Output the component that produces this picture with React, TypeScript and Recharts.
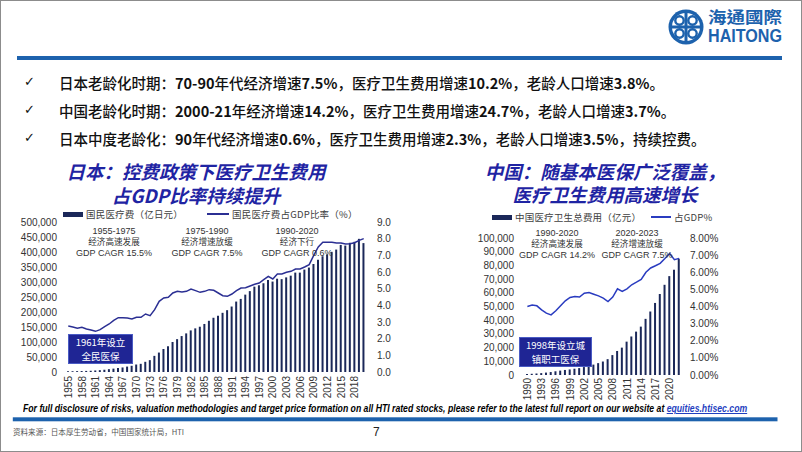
import React, { useLayoutEffect, useRef, useState } from "react";
import { Bar, ComposedChart, Line, XAxis, YAxis } from "recharts";

// Japan: national medical expenditure (100m yen) and share of GDP (%), 1955-2020
const JP_YEARS = [
  "1955", "1956", "1957", "1958", "1959", "1960", "1961", "1962", "1963", "1964",
  "1965", "1966", "1967", "1968", "1969", "1970", "1971", "1972", "1973", "1974",
  "1975", "1976", "1977", "1978", "1979", "1980", "1981", "1982", "1983", "1984",
  "1985", "1986", "1987", "1988", "1989", "1990", "1991", "1992", "1993", "1994",
  "1995", "1996", "1997", "1998", "1999", "2000", "2001", "2002", "2003", "2004",
  "2005", "2006", "2007", "2008", "2009", "2010", "2011", "2012", "2013", "2014",
  "2015", "2016", "2017", "2018", "2019", "2020",
];
const JP_EXP = [
  2388, 2583, 2897, 3230, 3625, 4095, 5130, 6132, 7541, 9389,
  11224, 13002, 15116, 18016, 20780, 24962, 27250, 33994, 39496, 53786,
  64779, 76684, 85686, 100042, 109510, 119805, 128709, 138659, 145438, 150932,
  160159, 170690, 180759, 187554, 197290, 206074, 218260, 234784, 243631, 257908,
  269577, 284542, 289149, 295823, 307019, 301418, 310998, 309507, 315375, 321111,
  331289, 331276, 341360, 348084, 360067, 374202, 385850, 392117, 400610, 408071,
  423644, 421381, 430710, 433949, 443895, 429665,
];
const JP_RATIO = [
  2.76, 2.7, 2.62, 2.68, 2.58, 2.52, 2.44, 2.54, 2.72, 2.88,
  3.1, 3.26, 3.26, 3.24, 3.18, 3.28, 3.28, 3.48, 3.38, 3.74,
  4.24, 4.44, 4.48, 4.74, 4.84, 4.8, 4.84, 4.98, 4.88, 4.78,
  4.84, 4.94, 4.9, 4.74, 4.58, 4.54, 4.68, 4.88, 5.04, 5.06,
  5.16, 5.26, 5.34, 5.54, 5.74, 5.58, 5.88, 5.88, 5.98, 6.04,
  6.18, 6.18, 6.3, 6.44, 7.0, 7.5, 7.78, 7.78, 7.78, 7.74,
  7.74, 7.68, 7.7, 7.76, 7.9, 8.0,
];

// China: total health expenditure (100m yuan) and share of GDP (%), 1990-2022
const CN_YEARS = [
  "1990", "1991", "1992", "1993", "1994", "1995", "1996", "1997", "1998", "1999",
  "2000", "2001", "2002", "2003", "2004", "2005", "2006", "2007", "2008", "2009",
  "2010", "2011", "2012", "2013", "2014", "2015", "2016", "2017", "2018", "2019",
  "2020", "2021", "2022",
];
const CN_EXP = [
  747, 893, 1097, 1378, 1761, 2155, 2709, 3197, 3679, 4048,
  4587, 5026, 5791, 6584, 7590, 8660, 9843, 11574, 14535, 17542,
  19980, 24346, 28119, 31669, 35312, 40975, 46345, 52598, 59122, 65841,
  72175, 76845, 84847,
];
const CN_RATIO = [
  4.0, 4.08, 4.04, 3.8, 3.61, 3.51, 3.75, 4.04, 4.33, 4.53,
  4.59, 4.55, 4.78, 4.82, 4.72, 4.62, 4.49, 4.29, 4.55, 5.03,
  4.88, 5.03, 5.27, 5.42, 5.58, 6.0, 6.25, 6.38, 6.52, 6.8,
  7.1, 6.73, 6.81,
];

const JP_LEFT_TICKS = [0, 50000, 100000, 150000, 200000, 250000, 300000, 350000, 400000, 450000, 500000];
const JP_RIGHT_TICKS = [0, 1, 2, 3, 4, 5, 6, 7, 8, 9];
const CN_LEFT_TICKS = [0, 10000, 20000, 30000, 40000, 50000, 60000, 70000, 80000, 90000, 100000];
const CN_RIGHT_TICKS = [0, 1, 2, 3, 4, 5, 6, 7, 8];

const BULLETS = [
  ["日本老龄化时期：", "70-90", "年代经济增速", "7.5%", "，医疗卫生费用增速", "10.2%", "，老龄人口增速", "3.8%", "。"],
  ["中国老龄化时期：", "2000-21", "年经济增速", "14.2%", "，医疗卫生费用增速", "24.7%", "，老龄人口增速", "3.7%", "。"],
  ["日本中度老龄化：", "90", "年代经济增速", "0.6%", "，医疗卫生费用增速", "2.3%", "，老龄人口增速", "3.5%", "，持续控费。"],
];

const BAR = "#1b2859";
const JP_LINE = "#2b2f93";
const CN_LINE = "#2a3cc0";
const TITLE = "#1f24a3";
const BRAND = "#1d62ad";
const CJK = '"Noto Sans CJK SC", "Noto Sans", sans-serif';
const LATIN = '"Liberation Sans", Arial, sans-serif';

const jpData = JP_YEARS.map((year, i) => ({ year, exp: JP_EXP[i], ratio: JP_RATIO[i] }));
const cnData = CN_YEARS.map((year, i) => ({ year, exp: CN_EXP[i], ratio: CN_RATIO[i] }));

const tickStyle = { fontSize: 10, fill: "#333", fontFamily: LATIN };

function YearTick({ x, y, payload }: any) {
  return (
    <text
      x={x}
      y={y}
      transform={`rotate(-90, ${x}, ${y})`}
      textAnchor="end"
      dy={3.6}
      fontSize={10}
      fill="#333"
      fontFamily={LATIN}
    >
      {payload.value}
    </text>
  );
}

function Note({ cx, top, lines }: { cx: number; top: number; lines: string[] }) {
  return (
    <svg style={{ position: "absolute", left: cx - 60, top }} width={120} height={36}>
      {lines.map((l, i) => (
        <text
          key={i}
          x={60}
          y={8 + i * 11}
          textAnchor="middle"
          fontSize={i === 1 ? 8.6 : 9}
          fill="#333"
          fontFamily={i === 1 ? CJK : LATIN}
        >
          {l}
        </text>
      ))}
    </svg>
  );
}

function BlueBox({ left, top, width, lines }: { left: number; top: number; width: number; lines: string[] }) {
  return (
    <div
      style={{
        position: "absolute",
        left,
        top,
        width,
        height: 30,
        boxSizing: "border-box",
        background: "#1f2594",
        border: "1px solid #4a5bc4",
        color: "#fff",
        fontFamily: CJK,
        fontSize: 9.5,
        lineHeight: "14px",
        display: "flex",
        flexDirection: "column",
        alignItems: "center",
        justifyContent: "center",
      }}
    >
      {lines.map((l, i) => (
        <div key={i}>{l}</div>
      ))}
    </div>
  );
}

function LegendRow({ items }: { items: { kind: "bar" | "line"; x: number; w: number; label: string; color: string; y: number }[] }) {
  return (
    <>
      {items.map((it, i) => (
        <div key={i}>
          <div
            style={{
              position: "absolute",
              left: it.x,
              top: it.kind === "bar" ? it.y - 2.5 : it.y - 1,
              width: it.w,
              height: it.kind === "bar" ? 5 : 2,
              background: it.color,
            }}
          />
          <div
            style={{
              position: "absolute",
              left: it.x + it.w + 3,
              top: it.y - 7,
              fontSize: 9.5,
              lineHeight: "14px",
              color: "#404040",
              fontFamily: CJK,
              whiteSpace: "nowrap",
              letterSpacing: 0.2,
            }}
          >
            {it.label}
          </div>
        </div>
      ))}
    </>
  );
}

// disclaimer line, squeezed horizontally to the width it takes on the slide
function Disclaimer() {
  const ref = useRef<HTMLDivElement>(null);
  const [scale, setScale] = useState(1);
  useLayoutEffect(() => {
    if (ref.current) setScale(724 / ref.current.scrollWidth);
  }, []);
  return (
    <div
      ref={ref}
      style={{
        position: "absolute",
        left: 23,
        top: 403,
        whiteSpace: "nowrap",
        fontFamily: LATIN,
        fontSize: 10,
        lineHeight: "12px",
        fontWeight: 700,
        fontStyle: "italic",
        color: "#000",
        transform: `scaleX(${scale})`,
        transformOrigin: "0 0",
      }}
    >
      For full disclosure of risks, valuation methodologies and target price formation on all HTI rated stocks, please refer to the latest full report on our website at{" "}
      <span style={{ color: "#1f3fbf", textDecoration: "underline" }}>equities.htisec.com</span>
    </div>
  );
}

function JapanChart() {
  return (
    <ComposedChart width={400} height={210} data={jpData} margin={{ top: 22, right: 0, bottom: 8, left: 0 }} barCategoryGap={0}>
      <XAxis
        dataKey="year"
        interval={2}
        tick={<YearTick />}
        axisLine={false}
        tickLine={false}
        tickSize={0}
        tickMargin={4}
        height={30}
      />
      <YAxis
        yAxisId="left"
        width={66}
        domain={[0, 500000]}
        ticks={JP_LEFT_TICKS}
        tickFormatter={(v: number) => v.toLocaleString("en-US")}
        axisLine={false}
        tickLine={false}
        tickSize={0}
        tickMargin={9}
        tick={tickStyle}
        interval={0}
      />
      <YAxis
        yAxisId="right"
        orientation="right"
        width={34}
        domain={[0, 9]}
        ticks={JP_RIGHT_TICKS}
        tickFormatter={(v: number) => v.toFixed(1)}
        axisLine={false}
        tickLine={false}
        tickSize={0}
        tickMargin={11}
        tick={tickStyle}
        interval={0}
      />
      <Bar yAxisId="left" dataKey="exp" fill={BAR} barSize={2} isAnimationActive={false} />
      <Line yAxisId="right" type="linear" dataKey="ratio" stroke={JP_LINE} strokeWidth={1.5} dot={false} isAnimationActive={false} />
    </ComposedChart>
  );
}

function ChinaChart() {
  return (
    <ComposedChart width={300} height={210} data={cnData} margin={{ top: 38, right: 0, bottom: 5, left: 0 }} barCategoryGap={0}>
      <XAxis
        dataKey="year"
        interval={2}
        tick={<YearTick />}
        axisLine={false}
        tickLine={false}
        tickSize={0}
        tickMargin={3}
        height={30}
      />
      <YAxis
        yAxisId="left"
        width={85}
        domain={[0, 100000]}
        ticks={CN_LEFT_TICKS}
        tickFormatter={(v: number) => v.toLocaleString("en-US")}
        axisLine={false}
        tickLine={false}
        tickSize={0}
        tickMargin={11}
        tick={tickStyle}
        interval={0}
      />
      <YAxis
        yAxisId="right"
        orientation="right"
        width={58.5}
        domain={[0, 8]}
        ticks={CN_RIGHT_TICKS}
        tickFormatter={(v: number) => `${v.toFixed(2)}%`}
        axisLine={false}
        tickLine={false}
        tickSize={0}
        tickMargin={8.5}
        tick={tickStyle}
        interval={0}
      />
      <Bar yAxisId="left" dataKey="exp" fill={BAR} barSize={2} isAnimationActive={false} />
      <Line yAxisId="right" type="linear" dataKey="ratio" stroke={CN_LINE} strokeWidth={1.5} dot={false} isAnimationActive={false} />
    </ComposedChart>
  );
}

function Logo() {
  return (
    <svg style={{ position: "absolute", left: 664, top: 4 }} width={130} height={48}>
      <circle cx={22} cy={23} r={17.5} fill={BRAND} />
      <circle cx={22} cy={23} r={14} fill="#fff" />
      <rect x={20.5} y={9} width={3} height={28} fill={BRAND} />
      <rect x={8} y={21.5} width={28} height={3} fill={BRAND} />
      <circle cx={15.5} cy={16.5} r={4.2} fill="none" stroke={BRAND} strokeWidth={2.4} />
      <circle cx={28.5} cy={16.5} r={4.2} fill="none" stroke={BRAND} strokeWidth={2.4} />
      <circle cx={15.5} cy={29.5} r={4.2} fill="none" stroke={BRAND} strokeWidth={2.4} />
      <circle cx={28.5} cy={29.5} r={4.2} fill="none" stroke={BRAND} strokeWidth={2.4} />
      <text x={44} y={19} textLength={74} lengthAdjust="spacingAndGlyphs" fontSize={16} fontWeight={700} fill={BRAND} fontFamily='"Noto Sans CJK TC", sans-serif'>
        海通國際
      </text>
      <text x={44} y={38} textLength={74} lengthAdjust="spacingAndGlyphs" fontSize={18} fontWeight={700} fill={BRAND} fontFamily={LATIN}>
        HAITONG
      </text>
    </svg>
  );
}

export default function App() {
  return (
    <div
      style={{
        position: "absolute",
        left: 0,
        top: 0,
        width: 802,
        height: 452,
        background: "#fff",
        overflow: "hidden",
        fontFamily: CJK,
      }}
    >
      <Logo />
      <div style={{ position: "absolute", left: 17, top: 56, width: 765, height: 3.5, background: BRAND }} />

      {BULLETS.map((parts, r) => (
        <div key={r}>
          <div style={{ position: "absolute", left: 24, top: 73 + r * 28, fontSize: 13, lineHeight: "18px", color: "#111", fontFamily: '"DejaVu Sans", sans-serif' }}>
            ✓
          </div>
          <div
            style={{
              position: "absolute",
              left: 59,
              top: 72.5 + r * 28,
              fontSize: 14.5,
              lineHeight: "20px",
              color: "#111",
              whiteSpace: "nowrap",
              fontWeight: 500,
            }}
          >
            {parts.map((p, i) => (i % 2 === 1 ? <b key={i}>{p}</b> : <span key={i}>{p}</span>))}
          </div>
        </div>
      ))}

      <div style={{ position: "absolute", left: 0, top: 159, width: 392, textAlign: "center", color: TITLE, fontSize: 18.5, lineHeight: "24px", fontWeight: 700, fontStyle: "italic" }}>
        <div>日本：控费政策下医疗卫生费用</div>
        <div>占GDP比率持续提升</div>
      </div>
      <div style={{ position: "absolute", left: 455, top: 159.5, width: 300, textAlign: "center", color: TITLE, fontSize: 18.5, lineHeight: "23.5px", fontWeight: 700, fontStyle: "italic" }}>
        <div>中国：随基本医保广泛覆盖，</div>
        <div>医疗卫生费用高速增长</div>
      </div>

      <div style={{ position: "absolute", left: 0, top: 200 }}>
        <JapanChart />
      </div>
      <div style={{ position: "absolute", left: 440, top: 200 }}>
        <ChinaChart />
      </div>

      <LegendRow
        items={[
          { kind: "bar", x: 63, w: 20, y: 214, label: "国民医疗费（亿日元）", color: BAR },
          { kind: "line", x: 207, w: 22, y: 214, label: "国民医疗费占GDP比率（%）", color: JP_LINE },
        ]}
      />
      <LegendRow
        items={[
          { kind: "bar", x: 492, w: 20, y: 217, label: "中国医疗卫生总费用（亿元）", color: BAR },
          { kind: "line", x: 651, w: 20, y: 217, label: "占GDP%", color: CN_LINE },
        ]}
      />

      <Note cx={114} top={226} lines={["1955-1975", "经济高速发展", "GDP CAGR 15.5%"]} />
      <Note cx={207} top={226} lines={["1975-1990", "经济增速放缓", "GDP CAGR 7.5%"]} />
      <Note cx={297} top={226} lines={["1990-2020", "经济下行", "GDP CAGR 0.6%"]} />
      <Note cx={557} top={227.5} lines={["1990-2020", "经济高速发展", "GDP CAGR 14.2%"]} />
      <Note cx={637} top={227.5} lines={["2020-2023", "经济增速放缓", "GDP CAGR 7.5%"]} />

      <BlueBox left={68} top={334} width={65} lines={["1961年设立", "全民医保"]} />
      <BlueBox left={519} top={337} width={73} lines={["1998年设立城", "镇职工医保"]} />

      <Disclaimer />

      <svg style={{ position: "absolute", left: 0, top: 400 }} width={802} height={52}>
        <rect x={12.8} y={17.3} width={764.7} height={4} fill={BRAND} />
        <text x={13} y={34.5} textLength={171} lengthAdjust="spacingAndGlyphs" fontSize={7.5} fill="#555" fontFamily={CJK}>
          资料来源：日本厚生劳动省，中国国家统计局，HTI
        </text>
        <text x={373} y={35.5} fontSize={12} fill="#222" fontFamily={LATIN}>
          7
        </text>
      </svg>

      <div style={{ position: "absolute", left: 0, top: 0, width: 802, height: 452, boxSizing: "border-box", border: "1.5px solid #8c8c8c", pointerEvents: "none" }} />
    </div>
  );
}
